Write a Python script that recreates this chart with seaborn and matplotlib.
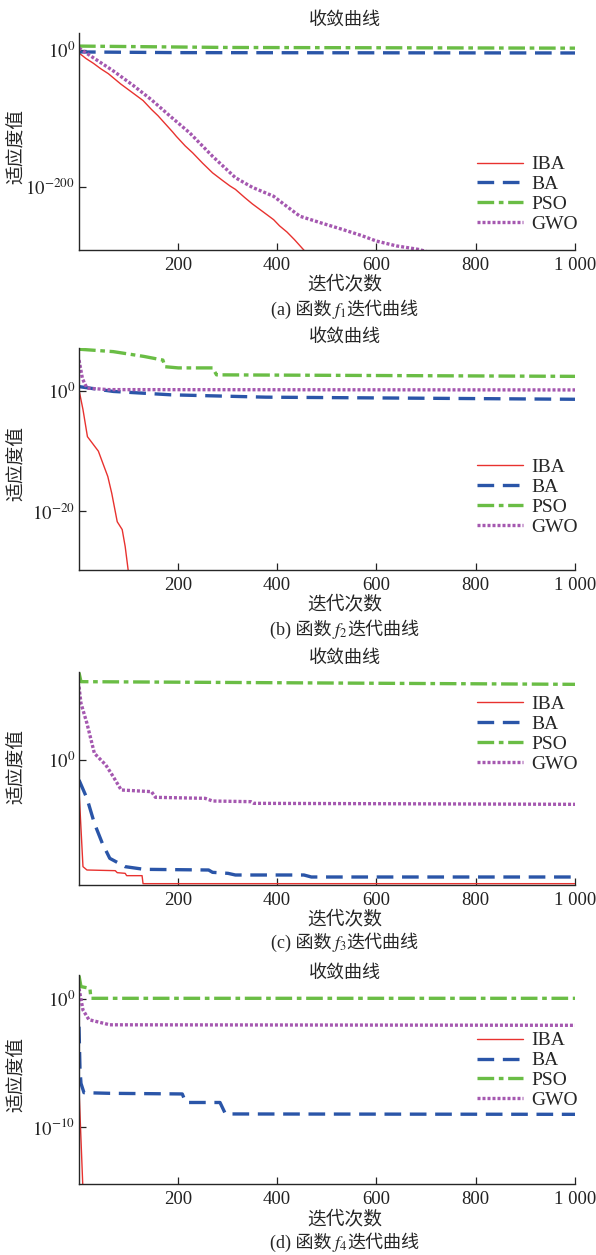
import numpy as np
import pandas as pd
import matplotlib
matplotlib.use('Agg')
import matplotlib.pyplot as plt
from matplotlib.ticker import NullLocator
import seaborn as sns

# Convergence curves, values stored as log10(fitness)
algs = ['IBA', 'BA', 'PSO', 'GWO']

# (a) f1
a_iba_x = [1, 15, 30, 45, 60, 70, 85, 100, 115, 130, 147, 160, 175, 190, 197, 215, 230, 250, 270, 290,
           305, 316, 335, 350, 365, 380, 393, 405, 420, 435, 450, 460]
a_iba_e = [-5, -13, -20, -28, -35, -41, -50, -58, -66, -74, -87, -96, -108, -120, -126, -140, -150, -165, -179, -190,
           -198, -203, -215, -224, -232, -240, -247, -256, -265, -276, -288, -296]
a_ba_x = [1, 200, 1000]
a_ba_e = [-3.5, -4.5, -5]
a_pso_x = [1, 300, 1000]
a_pso_e = [5, 3, 2]
a_gwo_x = [1, 30, 70, 110, 147, 185, 224, 270, 316, 350, 393, 420, 446, 490, 531, 570, 600, 640, 684, 700]
a_gwo_e = [2, -12, -31, -52, -73, -97, -121, -155, -186, -200, -213, -228, -242, -252, -261, -270, -278, -285, -290, -293]

# (b) f2
b_iba_x = [1, 9, 18, 40, 49, 59, 67, 78, 88, 94, 100, 104]
b_iba_e = [0.15, -3.1, -7.6, -10, -12, -14.2, -17, -21.7, -23, -25.8, -29.7, -32]
b_ba_x = [1, 70, 186, 377, 1000]
b_ba_e = [0.7, -0.1, -0.66, -1.05, -1.4]
b_pso_x = [1, 70, 101, 132, 170, 174, 201, 270, 278, 1000]
b_pso_e = [6.9, 6.5, 6.1, 5.7, 5.1, 4.0, 3.8, 3.8, 2.65, 2.4]
b_gwo_x = [1, 8, 17, 60, 1000]
b_gwo_e = [5.1, 2.0, 0.45, 0.2, 0.15]

# (c) f3
c_iba_x = [1, 9, 17, 74, 78, 94, 97, 128, 130, 1000]
c_iba_e = [-1.8, -6.4, -6.6, -6.64, -6.76, -6.8, -6.94, -6.94, -7.42, -7.42]
c_ba_x = [1, 17, 32, 48, 63, 94, 132, 262, 270, 301, 316, 454, 469, 1000]
c_ba_e = [-1.2, -2.3, -3.8, -5.0, -5.9, -6.4, -6.56, -6.6, -6.74, -6.8, -6.9, -6.9, -7.02, -7.02]
c_pso_x = [1, 5, 1000]
c_pso_e = [5.24, 4.7, 4.54]
c_gwo_x = [1, 5, 17, 32, 55, 70, 86, 147, 155, 255, 270, 347, 353, 1000]
c_gwo_e = [4.4, 3.4, 2.2, 0.4, -0.3, -1.0, -1.8, -1.9, -2.24, -2.3, -2.46, -2.5, -2.6, -2.66]

# (d) f4
d_iba_x = [1, 10]
d_iba_e = [-7.0, -16.0]
d_ba_x = [1, 3, 5, 11, 63, 209, 216, 285, 296, 1000]
d_ba_e = [-2.15, -5.5, -6.6, -7.33, -7.38, -7.43, -8.1, -8.1, -9.0, -9.03]
d_pso_x = [1, 5, 23, 25, 1000]
d_pso_e = [1.85, 1.0, 0.86, 0.08, 0.08]
d_gwo_x = [1, 9, 21, 63, 1000]
d_gwo_e = [0.86, -0.84, -1.6, -2.0, -2.04]

colors = {'IBA': '#e8322f', 'BA': '#2a55a8', 'PSO': '#6abd45', 'GWO': '#a558b0'}
widths = {'IBA': 1.0, 'BA': 2.4, 'PSO': 2.4, 'GWO': 2.4}
dashes = {'IBA': '', 'BA': (5, 2.6), 'PSO': (5, 1.4, 1.4, 1.4), 'GWO': (0.9, 0.6)}

sns.set_style('ticks')
plt.rcParams['font.family'] = ['Liberation Serif', 'Noto Sans CJK SC', 'DejaVu Sans']
plt.rcParams['mathtext.fontset'] = 'stix'
plt.rcParams['axes.linewidth'] = 1.0

W, H = 596, 1255
fig = plt.figure(figsize=(W / 100, H / 100), dpi=100)
renderer = fig.canvas.get_renderer()


def build(series):
    frames = []
    for alg, (xs, es) in zip(algs, series):
        frames.append(pd.DataFrame({'iter': xs, 'fitness': 10.0 ** np.array(es, dtype=float), 'alg': alg}))
    return pd.concat(frames, ignore_index=True)


def caption(x, y, pieces, size=13):
    # lay out text pieces side by side (Chinese text + mathtext f_n), centred on x
    texts = [fig.text(0, y, s, fontsize=size, va='baseline', ha='left') for s in pieces]
    widths_px = [t.get_window_extent(renderer).width for t in texts]
    start = x * W - sum(widths_px) / 2
    for t, w in zip(texts, widths_px):
        t.set_x(start / W)
        start += w


panels = [
    dict(series=[(a_iba_x, a_iba_e), (a_ba_x, a_ba_e), (a_pso_x, a_pso_e), (a_gwo_x, a_gwo_e)],
         top=33, bottom=250, ylim=(-291, 24), yticks=[0, -200], leg_y=0.256,
         title_y=20, xlabel_y=285, cap_y=315, ylabel_y=147, cap=['(a) 函数', r'$f_1$', '迭代曲线']),
    dict(series=[(b_iba_x, b_iba_e), (b_ba_x, b_ba_e), (b_pso_x, b_pso_e), (b_gwo_x, b_gwo_e)],
         top=348, bottom=570, ylim=(-29.7, 7.1), yticks=[0, -20], leg_y=0.327,
         title_y=337, xlabel_y=605, cap_y=635, ylabel_y=463, cap=['(b) 函数', r'$f_2$', '迭代曲线']),
    dict(series=[(c_iba_x, c_iba_e), (c_ba_x, c_ba_e), (c_pso_x, c_pso_e), (c_gwo_x, c_gwo_e)],
         top=672, bottom=885, ylim=(-7.5, 5.28), yticks=[0], leg_y=0.707,
         title_y=658, xlabel_y=920, cap_y=948, ylabel_y=767, cap=['(c) 函数', r'$f_3$', '迭代曲线']),
    dict(series=[(d_iba_x, d_iba_e), (d_ba_x, d_ba_e), (d_pso_x, d_pso_e), (d_gwo_x, d_gwo_e)],
         top=975, bottom=1184, ylim=(-14.5, 1.91), yticks=[0, -10], leg_y=0.543,
         title_y=973, xlabel_y=1220, cap_y=1248, ylabel_y=1075, cap=['(d) 函数', r'$f_4$', '迭代曲线']),
]

left, right = 79, 575
cx = 345 / W
for p in panels:
    ax = fig.add_axes([left / W, 1 - p['bottom'] / H, (right - left) / W, (p['bottom'] - p['top']) / H])
    ax.set_yscale('log')
    df = build(p['series'])
    sns.lineplot(data=df, x='iter', y='fitness', hue='alg', style='alg', size='alg',
                 hue_order=algs, style_order=algs, size_order=algs,
                 palette=colors, dashes=dashes, sizes=widths,
                 estimator=None, sort=False, ax=ax)
    ax.set_xlim(1, 1000)
    ax.set_ylim(10.0 ** p['ylim'][0], 10.0 ** p['ylim'][1])
    ax.set_xticks([200, 400, 600, 800, 1000])
    ax.set_xticklabels(['200', '400', '600', '800', '1 000'])
    ax.set_yticks([10.0 ** e for e in p['yticks']])
    ax.set_yticklabels([r'$10^{%d}$' % e for e in p['yticks']])
    ax.yaxis.set_minor_locator(NullLocator())
    ax.xaxis.set_minor_locator(NullLocator())
    ax.tick_params(direction='in', length=5, width=0.9, labelsize=13.5, colors='#222222')
    ax.tick_params(axis='x', pad=5)
    ax.tick_params(axis='y', pad=3)
    ax.set_xlabel('')
    ax.set_ylabel('')
    sns.despine(ax=ax)
    handles, labels = ax.get_legend_handles_labels()
    ax.legend(handles, labels, loc='center right', bbox_to_anchor=(1.005, p['leg_y']),
              frameon=False, fontsize=14, handlelength=2.4, handletextpad=0.4,
              labelspacing=0.12, borderpad=0, borderaxespad=0)

    fig.text(cx, 1 - p['title_y'] / H, '收敛曲线', ha='center', va='center', fontsize=13)
    fig.text(cx, 1 - p['xlabel_y'] / H, '迭代次数', ha='center', va='center', fontsize=13.5)
    caption(cx, 1 - p['cap_y'] / H, p['cap'])
    fig.text(17 / W, 1 - p['ylabel_y'] / H, '适应度值', ha='center', va='center',
             rotation=90, fontsize=13.5)

fig.savefig('out.png', dpi=100)
